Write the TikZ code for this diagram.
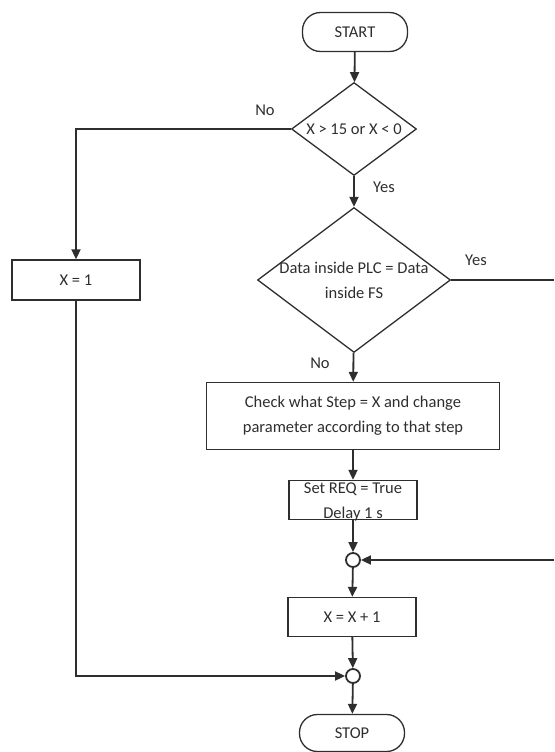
\documentclass[tikz,border=0pt]{standalone}
\usepackage{fontspec}
\setmainfont{Carlito}
\usetikzlibrary{shapes.geometric,arrows.meta}
\definecolor{ink}{HTML}{2E2E2E}
\begin{document}
\begin{tikzpicture}[x=1pt,y=-1pt,
  font=\fontsize{16.5}{25}\selectfont,
  every node/.style={text=ink},
  box/.style={draw=ink,line width=1.3pt,rectangle,inner sep=0pt,align=center},
  term/.style={box,rounded corners=18pt},
  decision/.style={draw=ink,line width=1.3pt,diamond,inner sep=0pt},
  junction/.style={draw=ink,line width=1.8pt,circle,inner sep=0pt,minimum size=14pt},
  flow/.style={draw=ink,line width=1.8pt,-{Triangle[length=10pt,width=9pt]}},
  plain/.style={draw=ink,line width=1.8pt}]
\useasboundingbox (0,0) rectangle (554,752);

% terminals
\node[term,minimum width=105pt,minimum height=39pt] (start) at (355,32) {START};
\node[term,minimum width=105pt,minimum height=37pt] (stop) at (352,733) {STOP};

% decisions
\node[decision,minimum width=125pt,minimum height=93pt,
      label={center:X > 15 or X < 0}] (d1) at (354,129) {};
\node[decision,minimum width=193pt,minimum height=145pt,
      label={[align=center,text=ink]center:Data inside PLC = Data\\inside FS}] (d2) at (354,280) {};

% process boxes
\node[box,minimum width=128pt,minimum height=40pt] (x1) at (76,280) {X = 1};
\node[box,minimum width=293pt,minimum height=67pt] (check) at (353,416)
  {Check what Step = X and change\\parameter according to that step};
\node[box,minimum width=128pt,minimum height=39pt] (req) at (353,500) {};
\node[align=center] (reqtext) at (353,502) {Set REQ = True\\Delay 1 s};
\node[box,minimum width=128pt,minimum height=39pt] (inc) at (352,617) {X = X + 1};

% junctions
\node[junction] (j1) at (353,560) {};
\node[junction] (j2) at (353,676) {};

% loop ends at the right margin
\coordinate (rtop) at (554,280);
\coordinate (rbot) at (554,560);
\coordinate (lcorner) at (76,129);
\coordinate (lbottom) at (76,676);

% connectors
\draw[flow] (start) -- (d1);
\draw[flow] (d1) -- (d2);
\draw[flow] (d1.west) -- (lcorner) -- (x1);
\draw[plain] (d2.east) -- (rtop);
\draw[flow] (d2) -- (check);
\draw[flow] (check) -- (req);
\draw[flow] (req) -- (j1);
\draw[flow] (rbot) -- (j1);
\draw[flow] (j1) -- (inc);
\draw[flow] (inc) -- (j2);
\draw[flow] (x1) -- (lbottom) -- (j2);
\draw[flow] (j2) -- (stop);

% branch labels
\node (no1) at (265,110) {No};
\node (yes1) at (384,187) {Yes};
\node (yes2) at (476,260) {Yes};
\node (no2) at (320,363) {No};
\end{tikzpicture}
\end{document}
